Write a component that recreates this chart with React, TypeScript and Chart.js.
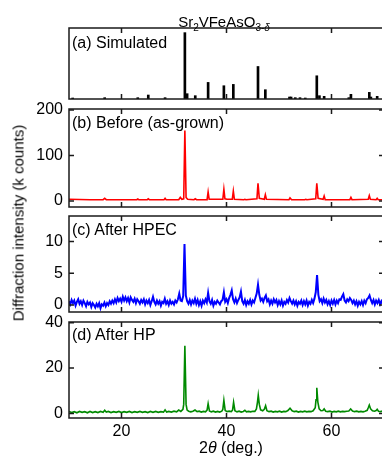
import React, { useEffect, useRef } from 'react';
import { Chart, registerables } from 'chart.js';
Chart.register(...registerables);

// ---------------- data ----------------
const X_MIN = 10;
const X_MAX = 70;
const xTickValues = [20, 40, 60];
const xTickLabels = ['20', '40', '60'];

// (a) simulated stick pattern (relative intensity, %)
const simAngles = [10.7, 16.8, 23.1, 25.1, 28.3, 32.07, 32.5, 34.05, 36.5, 39.5, 41.3, 46.0, 47.4, 52.0, 52.3, 53.1, 54.0, 55.0, 57.2, 57.7, 58.6, 63.3, 63.7, 67.2, 67.5, 68.7];
const simIntensity = [1.5, 2, 2, 6, 2, 100, 8, 5, 25, 20, 22, 49, 14, 3, 3, 2, 2, 1.5, 35, 5, 4, 2, 7, 10, 3, 4];

// (b) before (as-grown), k counts
const grownAngles = [10, 12, 14, 16.5, 16.8, 17.1, 20, 22.9, 23.1, 23.3, 24.9, 25.1, 25.3, 28.1, 28.3, 28.5, 30.9, 31.2, 31.5, 31.85, 32.07, 32.3, 32.6, 33.8, 34.05, 34.3, 36.3, 36.5, 36.7, 39.3, 39.5, 39.7, 40.1, 41.1, 41.3, 41.5, 43.3, 43.5, 43.7, 45.8, 46.0, 46.25, 47.2, 47.4, 47.6, 51.9, 52.1, 52.4, 54.9, 55.1, 55.3, 57.0, 57.2, 57.45, 58.4, 58.6, 58.8, 63.5, 63.7, 63.9, 67.0, 67.2, 67.4, 68.5, 68.7, 68.9, 70];
const grownCounts = [4, 3.5, 3, 3, 6, 3, 3, 3, 4.5, 3, 3, 5, 3, 3, 6, 3, 3, 8, 4, 5, 155, 8, 4, 3, 5, 3, 3, 20, 4, 4, 26, 5, 4, 4, 22, 4, 3, 4, 3, 5, 39, 6, 4, 14, 4, 3, 7, 3, 3, 4, 3, 5, 39, 6, 4, 11, 3, 3, 8, 3, 4, 12, 4, 3, 6, 3, 3];

// (c) after HPEC, k counts, sampled every 0.25 deg from 10 deg
const hpecStart = 10;
const hpecStep = 0.25;
const hpecCounts = [
  0.6, 0.1, 0.8, 0.3, 0.7, -0.1, 0.5, 0.9, 0.2, 0.6, 0.0, 0.7, 0.3, -0.2, 0.5, 0.1, 0.4, -0.3, 0.3, 0.0,
  -0.4, 0.2, -0.2, 0.3, -0.5, 0.1, -0.1, 0.4, -0.2, 0.3, 0.0, 0.6, 0.2, 0.7, 0.3, 0.9, 0.4, 1.1, 0.6, 1.0,
  0.5, 1.3, 0.7, 1.2, 0.6, 1.1, 0.4, 1.2, 0.8, 0.5, 1.0, 0.3, 0.9, 0.6, 0.2, 0.8, 0.4, 0.9, 0.1, 0.7,
  0.3, 0.8, 0.0, 0.6, 1.3, 0.5, 0.1, 0.7, 0.2, 0.6, -0.1, 0.5, 0.3, 1.0, 0.2, 0.6, 0.0, 0.7, 0.2, 0.5,
  0.1, 0.7, 0.4, 0.9, 1.8, 0.7, 0.6, 1.4, 9.6, 1.5, 0.6, 0.2, 0.8, 0.1, 0.7, 0.3, 1.0, 0.2, 0.8, 0.0,
  0.6, -0.1, 0.7, 0.3, 0.9, 0.4, 1.9, 0.6, 0.2, 0.8, -0.1, 0.5, 0.2, 0.7, 0.4, 0.1, 0.6, 0.8, 2.0, 0.5,
  0.9, 0.3, 1.1, 1.6, 2.3, 0.9, 0.4, 1.0, 0.3, 0.8, 1.2, 2.1, 0.6, 0.2, 0.8, 0.0, 0.6, 0.2, 0.8, 0.1,
  0.7, 0.4, 1.1, 1.8, 3.2, 1.6, 0.7, 1.0, 0.5, 1.1, 1.5, 0.6, 0.9, 0.1, 0.7, 0.2, 0.9, 0.4, 0.8, 0.0,
  0.6, 0.1, 0.7, -0.1, 0.5, 0.2, 0.8, 0.4, 1.1, 0.6, 0.2, 0.7, 0.1, 0.6, -0.1, 0.5, 0.2, 0.7, 0.0, 0.6,
  0.1, 0.7, -0.1, 0.5, 0.2, 0.8, 0.3, 1.0, 2.0, 4.7, 1.6, 0.6, 0.9, 0.3, 1.0, 0.4, 0.8, 0.1, 0.6, 0.0,
  0.7, 0.2, 0.8, 0.1, 0.7, 0.3, 0.9, 0.8, 1.3, 1.7, 0.7, 0.4, 0.9, 0.6, 1.1, 0.8, 0.3, 0.7, 0.1, 0.6,
  -0.1, 0.5, 0.1, 0.6, 0.0, 0.7, 0.3, 0.9, 1.1, 1.5, 0.8, 0.3, 0.8, 0.1, 0.7, 0.3, 0.8, 0.1, 0.6, 0.2,
  0.6,
];

// (d) after HP, k counts
const hpAngles = [10, 10.5, 11, 11.5, 12, 12.5, 13, 13.5, 14, 14.5, 15, 15.5, 16, 16.5, 16.8, 17.1, 17.5, 18, 18.5, 19, 19.5, 20, 20.5, 21, 21.5, 22, 22.5, 23, 23.5, 24, 24.5, 25, 25.5, 26, 26.5, 27, 27.5, 28, 28.3, 28.6, 29, 29.5, 30, 30.5, 30.9, 31.3, 31.7, 31.85, 32.07, 32.3, 32.5, 32.8, 33.2, 33.6, 34.0, 34.4, 34.8, 35.2, 35.6, 36.0, 36.3, 36.5, 36.75, 37.1, 37.5, 37.9, 38.3, 38.7, 39.1, 39.3, 39.5, 39.75, 40.1, 40.5, 40.9, 41.15, 41.35, 41.6, 42.0, 42.4, 42.8, 43.2, 43.5, 43.8, 44.2, 44.6, 45.0, 45.4, 45.7, 45.9, 46.05, 46.25, 46.5, 46.9, 47.2, 47.45, 47.7, 48.1, 48.5, 48.9, 49.3, 49.7, 50.1, 50.5, 50.9, 51.3, 51.7, 52.1, 52.5, 52.9, 53.3, 53.7, 54.1, 54.5, 54.9, 55.3, 55.7, 56.1, 56.5, 56.9, 57.05, 57.2, 57.4, 57.65, 58.0, 58.35, 58.6, 58.9, 59.3, 59.7, 60.1, 60.5, 60.9, 61.3, 61.7, 62.1, 62.5, 62.9, 63.3, 63.65, 64.0, 64.4, 64.8, 65.2, 65.6, 66.0, 66.4, 66.8, 67.0, 67.2, 67.45, 67.8, 68.2, 68.5, 68.7, 68.95, 69.3, 69.7, 70];
const hpCounts = [0.9, 0.4, 0.8, 0.3, 0.9, 0.5, 0.8, 0.3, 0.9, 0.4, 0.8, 0.4, 0.9, 0.5, 1.4, 0.6, 0.9, 0.4, 0.8, 0.5, 0.9, 0.4, 0.8, 0.5, 0.9, 0.4, 0.8, 0.5, 0.9, 0.5, 0.8, 0.4, 0.9, 0.5, 0.9, 0.5, 0.8, 0.6, 1.6, 0.6, 0.9, 0.6, 1.0, 0.7, 1.5, 0.9, 1.8, 4.0, 29.8, 4.0, 1.5, 1.0, 0.7, 1.0, 1.5, 0.8, 1.0, 0.6, 0.9, 0.7, 1.5, 4.3, 1.1, 0.7, 1.0, 0.6, 0.9, 0.6, 1.0, 1.8, 5.8, 1.3, 0.8, 1.0, 0.8, 1.5, 4.9, 1.2, 0.7, 1.0, 0.6, 0.9, 1.4, 0.7, 0.9, 0.7, 1.0, 0.9, 2.0, 5.0, 8.0, 4.0, 1.6, 1.2, 1.8, 3.4, 1.2, 0.8, 1.0, 0.6, 0.9, 0.7, 1.0, 0.6, 0.9, 0.8, 1.3, 2.3, 1.2, 0.8, 1.0, 0.6, 0.9, 0.7, 1.0, 0.7, 0.9, 0.8, 1.2, 2.5, 6.0, 11.3, 5.0, 2.0, 1.2, 1.3, 2.0, 1.0, 0.8, 1.0, 0.6, 0.9, 0.7, 1.0, 0.7, 0.9, 0.8, 1.0, 1.1, 2.0, 1.1, 0.8, 1.0, 0.7, 0.9, 0.7, 1.0, 1.4, 2.5, 3.7, 2.0, 1.2, 1.0, 1.3, 1.8, 1.0, 0.8, 1.0, 0.8];

const grownTicks = [0, 100, 200];
const hpecTicks = [0, 5, 10];
const hpTicks = [0, 20, 40];

// ---------------- layout ----------------
const FONT = "'Liberation Sans', Arial, Helvetica, sans-serif";
const CANVAS_W = 392;
const AXIS_W = 69;
const PAD_R = 8;
const PAD_T = 22;
const PAD_B = 22;
const X_AXIS_H = 30;

const framePlugin = {
  id: 'panelFrame',
  afterDatasetsDraw(chart: any, _args: any, opts: any) {
    const { ctx, chartArea: a, scales } = chart;
    ctx.save();
    ctx.strokeStyle = '#1a1a1a';
    ctx.lineWidth = 1.5;
    ctx.strokeRect(a.left, a.top, a.right - a.left, a.bottom - a.top);
    const L = 5;
    ctx.beginPath();
    for (const v of xTickValues) {
      const px = scales.x.getPixelForValue(v);
      ctx.moveTo(px, a.top);
      ctx.lineTo(px, a.top + L);
      ctx.moveTo(px, a.bottom);
      ctx.lineTo(px, a.bottom - L);
    }
    for (const v of (opts.yTicks || [])) {
      const py = scales.y.getPixelForValue(v);
      ctx.moveTo(a.left, py);
      ctx.lineTo(a.left + L, py);
      ctx.moveTo(a.right, py);
      ctx.lineTo(a.right - L, py);
    }
    ctx.stroke();
    ctx.restore();
  },
};

type PanelSpec = {
  top: number;
  bottom: number;
  yMin: number;
  yMax: number;
  yTicks: number[];
  showX: boolean;
  kind: 'bar' | 'line';
  angles: number[];
  values: number[];
  color: string;
  width: number;
};

const hpecAngles = hpecCounts.map((_, i) => hpecStart + i * hpecStep);

const panels: PanelSpec[] = [
  { top: 28, bottom: 99, yMin: 0, yMax: 107, yTicks: [], showX: false, kind: 'bar', angles: simAngles, values: simIntensity, color: '#000000', width: 2 },
  { top: 109, bottom: 207, yMin: -13, yMax: 202, yTicks: grownTicks, showX: false, kind: 'line', angles: grownAngles, values: grownCounts, color: '#ff0000', width: 1.6 },
  { top: 216, bottom: 312, yMin: -1.1, yMax: 14, yTicks: hpecTicks, showX: false, kind: 'line', angles: hpecAngles, values: hpecCounts, color: '#0000ff', width: 2 },
  { top: 322, bottom: 418, yMin: -2, yMax: 40.3, yTicks: hpTicks, showX: true, kind: 'line', angles: hpAngles, values: hpCounts, color: '#008a00', width: 1.6 },
];

function canvasHeight(p: PanelSpec) {
  return p.bottom - p.top + PAD_T + (p.showX ? X_AXIS_H : PAD_B);
}

function makeConfig(p: PanelSpec): any {
  const data = p.angles.map((x, i) => ({ x, y: p.values[i] }));
  const dataset: any =
    p.kind === 'bar'
      ? { data, backgroundColor: p.color, borderWidth: 0, barThickness: p.width, grouped: false }
      : { data, borderColor: p.color, borderWidth: p.width, pointRadius: 0, tension: 0, fill: false };
  return {
    type: p.kind,
    data: { datasets: [dataset] },
    plugins: [framePlugin],
    options: {
      animation: false,
      responsive: false,
      devicePixelRatio: 1,
      layout: { padding: { left: 0, right: PAD_R, top: PAD_T, bottom: p.showX ? 0 : PAD_B } },
      plugins: {
        legend: { display: false },
        tooltip: { enabled: false },
        panelFrame: { yTicks: p.yTicks },
      },
      scales: {
        x: {
          type: 'linear',
          min: X_MIN,
          max: X_MAX,
          offset: false,
          display: p.showX,
          grid: { display: false, drawTicks: false },
          border: { display: false },
          afterBuildTicks: (s: any) => { s.ticks = xTickValues.map((v) => ({ value: v })); },
          afterFit: (s: any) => { s.height = p.showX ? X_AXIS_H : 0; },
          ticks: {
            color: '#000',
            padding: 4,
            maxRotation: 0,
            font: { family: FONT, size: 16 },
            callback: (v: any) => { const i = xTickValues.indexOf(Number(v)); return i >= 0 ? xTickLabels[i] : ''; },
          },
        },
        y: {
          type: 'linear',
          min: p.yMin,
          max: p.yMax,
          display: true,
          grid: { display: false, drawTicks: false },
          border: { display: false },
          afterBuildTicks: (s: any) => { s.ticks = p.yTicks.map((v) => ({ value: v })); },
          afterFit: (s: any) => { s.width = AXIS_W; },
          ticks: {
            display: p.yTicks.length > 0,
            color: '#000',
            padding: 6,
            font: { family: FONT, size: 16 },
          },
        },
      },
    },
  };
}

const labelStyle: React.CSSProperties = {
  position: 'absolute',
  fontFamily: FONT,
  fontSize: 16,
  lineHeight: '16px',
  color: '#000',
  whiteSpace: 'nowrap',
};

const panelLabels = ['(a) Simulated', '(b) Before (as-grown)', '(c) After HPEC', '(d) After HP'];
const panelLabelCenters = [43, 123, 230, 335];

export default function App() {
  const refs = [useRef<HTMLCanvasElement>(null), useRef<HTMLCanvasElement>(null), useRef<HTMLCanvasElement>(null), useRef<HTMLCanvasElement>(null)];

  useEffect(() => {
    const charts = panels.map((p, i) => new Chart(refs[i].current as HTMLCanvasElement, makeConfig(p)));
    return () => charts.forEach((c) => c.destroy());
  }, []);

  return (
    <div style={{ position: 'fixed', left: 0, top: 0, width: 382, height: 456, overflow: 'hidden', background: '#fff' }}>
      {panels.map((p, i) => (
        <canvas
          key={i}
          ref={refs[i]}
          width={CANVAS_W}
          height={canvasHeight(p)}
          style={{ position: 'absolute', left: 0, top: p.top - PAD_T, width: CANVAS_W, height: canvasHeight(p) }}
        />
      ))}
      <div style={{ ...labelStyle, fontSize: 15, lineHeight: '15px', left: 224, top: 14, transform: 'translateX(-50%)' }}>
        Sr<span style={{ fontSize: 10, position: 'relative', top: 4 }}>2</span>VFeAsO
        <span style={{ fontSize: 10, position: 'relative', top: 4 }}>3-<i>δ</i></span>
      </div>
      {panelLabels.map((t, i) => (
        <div key={t} style={{ ...labelStyle, left: 72, top: panelLabelCenters[i] - 8 }}>{t}</div>
      ))}
      <div
        style={{
          ...labelStyle,
          fontSize: 15,
          lineHeight: '15px',
          left: 18,
          top: 223,
          transform: 'translate(-50%, -50%) rotate(-90deg)',
        }}
      >
        Diffraction intensity (k counts)
      </div>
      <div style={{ ...labelStyle, left: 231, top: 448, transform: 'translate(-50%, -50%)' }}>
        2<i>θ</i> (deg.)
      </div>
    </div>
  );
}
